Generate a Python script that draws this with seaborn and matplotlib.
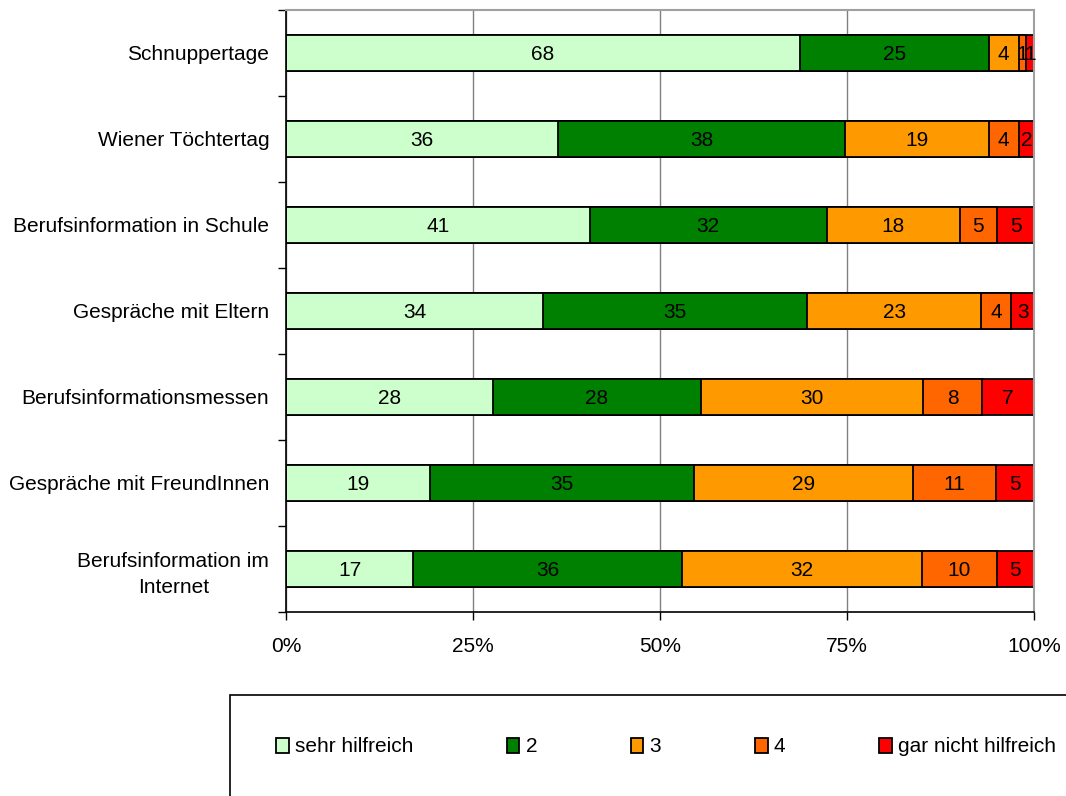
import numpy as np
import pandas as pd
import seaborn as sns
import matplotlib.pyplot as plt
from matplotlib.patches import Patch, Rectangle
from matplotlib.ticker import FixedLocator, PercentFormatter

categories = ["Schnuppertage", "Wiener Töchtertag", "Berufsinformation in Schule",
              "Gespräche mit Eltern", "Berufsinformationsmessen",
              "Gespräche mit FreundInnen", "Berufsinformation im\nInternet"]
series = ["sehr hilfreich", "2", "3", "4", "gar nicht hilfreich"]
sehr_hilfreich = [68, 36, 41, 34, 28, 19, 17]
stufe_2 = [25, 38, 32, 35, 28, 35, 36]
stufe_3 = [4, 19, 18, 23, 30, 29, 32]
stufe_4 = [1, 4, 5, 4, 8, 11, 10]
gar_nicht = [1, 2, 5, 3, 7, 5, 5]
colors = ["#CCFFCC", "#008000", "#FF9900", "#FF6600", "#FF0000"]

sns.set_style("white")
plt.rcParams["font.family"] = ["Liberation Sans", "DejaVu Sans"]
for key in ["text.color", "axes.labelcolor", "xtick.color", "ytick.color"]:
    plt.rcParams[key] = "black"

df = pd.DataFrame(dict(zip(series, [sehr_hilfreich, stufe_2, stufe_3, stufe_4, gar_nicht])),
                  index=categories)
share = df.div(df.sum(axis=1), axis=0) * 100
cum = share.cumsum(axis=1)

fig = plt.figure(figsize=(10.66, 7.96), dpi=100)
ax = fig.add_axes([286 / 1066, 1 - 612 / 796, 748 / 1066, 602 / 796])

# stacked bars: draw cumulative totals from the largest down
for i in range(len(series) - 1, -1, -1):
    sns.barplot(x=cum.iloc[:, i].values, y=categories, orient="h", color=colors[i],
                edgecolor="black", linewidth=1.3, width=0.42, saturation=1, ax=ax)

for r, cat in enumerate(categories):
    left = 0
    for i, s in enumerate(series):
        w = share.loc[cat, s]
        ax.text(left + w / 2, r + 0.02, str(df.loc[cat, s]), ha="center", va="center",
                fontsize=15, color="black")
        left += w

ax.set_xlim(0, 100)
ax.set_ylim(6.5, -0.5)
ax.xaxis.set_major_locator(FixedLocator([0, 25, 50, 75, 100]))
ax.xaxis.set_major_formatter(PercentFormatter(decimals=0))
ax.set_xlabel("")
ax.set_ylabel("")
ax.grid(axis="x", color="#808080", linewidth=1)
ax.set_axisbelow(True)
ax.yaxis.set_minor_locator(FixedLocator(np.arange(-0.5, 7, 1)))
ax.tick_params(axis="y", which="major", length=0, pad=12, labelsize=15, left=True)
ax.tick_params(axis="y", which="minor", length=6, width=1, color="black", left=True)
ax.tick_params(axis="x", length=6, width=1, color="black", pad=12, labelsize=15, bottom=True)
for lab in ax.get_yticklabels():
    lab.set_multialignment("center")
    lab.set_linespacing(1.45)

for side in ["top", "right"]:
    ax.spines[side].set_color("#A0A0A0")
    ax.spines[side].set_linewidth(1.5)
for side in ["left", "bottom"]:
    ax.spines[side].set_color("black")
    ax.spines[side].set_linewidth(1.2)

fig.patches.append(Rectangle((230 / 1066, -0.2), 1.0, 0.2 + 1 - 695 / 796,
                             transform=fig.transFigure, fill=False,
                             edgecolor="black", linewidth=1.2))
handles = [Patch(facecolor=c, edgecolor="black", linewidth=1.3) for c in colors]
fig.legend(handles, series, loc="center left", bbox_to_anchor=(276 / 1066, 1 - 747 / 796),
           ncol=5, frameon=False, fontsize=15, handlelength=0.6, handleheight=0.7,
           handletextpad=0.3, columnspacing=4.5, borderaxespad=0, borderpad=0)

fig.savefig("out.png", dpi=100)
